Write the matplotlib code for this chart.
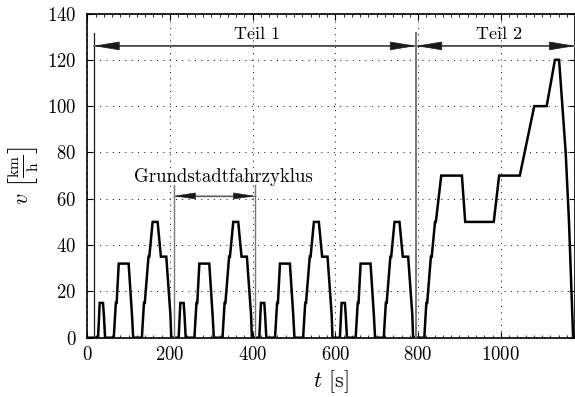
import matplotlib
matplotlib.use("Agg")
import matplotlib.pyplot as plt
import numpy as np
from matplotlib.ticker import MultipleLocator

plt.rcParams["font.family"] = "cmr10"
plt.rcParams["mathtext.fontset"] = "cm"
plt.rcParams["axes.unicode_minus"] = False
plt.rcParams["axes.formatter.use_mathtext"] = True

# ECE-15 urban cycle (one repetition, 195 s): breakpoints time [s], speed [km/h]
ece_t = [0, 11, 15, 23, 25, 28, 49, 54, 56, 61, 85, 93, 96, 117, 122, 124,
         133, 135, 143, 155, 163, 176, 186, 188, 195]
ece_v = [0, 0, 15, 15, 10, 0, 0, 15, 15, 32, 32, 10, 0, 0, 15, 15,
         35, 35, 50, 50, 35, 35, 10, 0, 0]

# EUDC extra-urban cycle (400 s)
eudc_t = [0, 20, 25, 27, 36, 38, 46, 48, 61, 111, 119, 188, 201, 251, 286,
          316, 336, 346, 362, 370, 380, 400]
eudc_v = [0, 0, 15, 15, 35, 35, 50, 50, 70, 70, 50, 50, 70, 70, 100,
          100, 120, 120, 80, 50, 0, 0]

start_offset = 15          # idle before the first urban cycle
n_urban = 4
ece_len = 195
part1_end = start_offset + n_urban * ece_len   # 795 s

t_all = [0.0]
v_all = [0.0]
for k in range(n_urban):
    base = start_offset + k * ece_len
    t_all += [base + t for t in ece_t]
    v_all += ece_v
t_all += [part1_end + t for t in eudc_t]
v_all += eudc_v

fig = plt.figure(figsize=(5.75, 3.97), dpi=100)
ax = fig.add_axes([87.3 / 575, 1 - 337.7 / 397, (575.2 - 87.3) / 575, (337.7 - 13.5) / 397])

ax.plot(t_all, v_all, color="black", lw=1.8, solid_joinstyle="miter", zorder=3, clip_on=True)

ax.set_xlim(0, 1180)
ax.set_ylim(0, 140)
ax.xaxis.set_major_locator(MultipleLocator(200))
ax.xaxis.set_minor_locator(MultipleLocator(20))
ax.yaxis.set_major_locator(MultipleLocator(20))
ax.tick_params(which="both", direction="in", top=True, right=True, labelsize=13.5)
ax.tick_params(which="major", length=4.5, width=0.8)
ax.tick_params(axis="x", which="major", pad=6)
ax.tick_params(axis="y", which="major", pad=8)
ax.tick_params(which="minor", length=2, width=0.6)
ax.grid(True, which="major", color="black", linestyle=(0, (1, 5.5)), linewidth=0.7)
for s in ax.spines.values():
    s.set_linewidth(1.2)

ax.set_xlabel(r"$t$ [s]", fontsize=16, labelpad=3)
ax.set_ylabel(r"$v\ \left[\frac{\mathrm{km}}{\mathrm{h}}\right]$", fontsize=16, labelpad=5)

# Part markers
arrow_y = 126
gray = "#777777"
dark = "#1a1a1a"
big_head = dict(arrowstyle="<|-|>,head_length=1.7,head_width=0.28", color=dark,
                lw=0.5, shrinkA=0, shrinkB=0)

ax.plot([start_offset, start_offset], [0, 131.5], color=dark, lw=0.9, zorder=4)
ax.plot([part1_end, part1_end], [0, 131.5], color=gray, lw=1.4, zorder=4)

for x0, x1, label, xt in [(start_offset, part1_end, "Teil 1", 410),
                          (part1_end, 1180, "Teil 2", 995)]:
    ax.plot([x0, x1], [arrow_y, arrow_y], color=gray, lw=1.4, zorder=4)
    ax.annotate("", xy=(x1, arrow_y), xytext=(x0, arrow_y),
                arrowprops=big_head, zorder=6, annotation_clip=False)
    ax.text(xt, 131.2, label, ha="center", va="center", fontsize=13, zorder=6)

# One basic urban cycle
c0 = start_offset + ece_len
c1 = c0 + ece_len
ax.plot([c0, c0], [0, 66], color=gray, lw=1.0, zorder=4)
ax.plot([c1, c1], [0, 66], color=gray, lw=1.0, zorder=4)
ax.plot([c0, c1], [61.2, 61.2], color=gray, lw=1.0, zorder=4)
ax.annotate("", xy=(c1, 61.2), xytext=(c0, 61.2),
            arrowprops=dict(arrowstyle="<|-|>,head_length=1.4,head_width=0.22",
                            color=dark, lw=0.4, shrinkA=0, shrinkB=0), zorder=6)
ax.text(328, 69.5, "Grundstadtfahrzyklus", ha="center", va="center", fontsize=13.5, zorder=6)

fig.savefig("out.png", dpi=100)
